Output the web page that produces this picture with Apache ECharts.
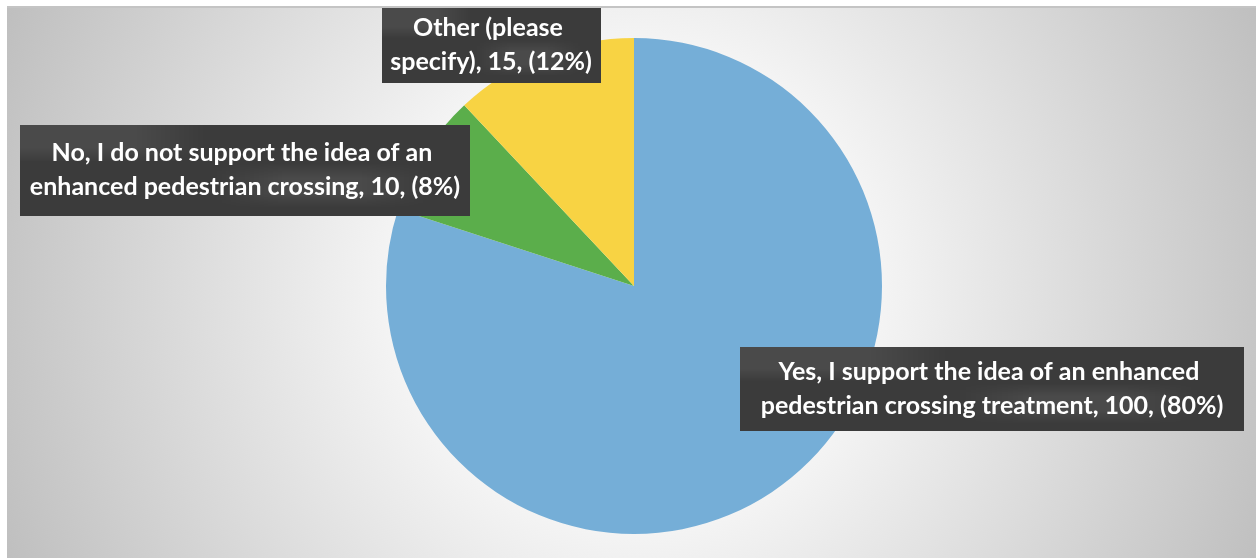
<!DOCTYPE html>
<html>
<head>
<meta charset="utf-8">
<script src="https://cdn.jsdelivr.net/npm/echarts@6/dist/echarts.min.js"></script>
<style>
html, body { margin: 0; padding: 0; background: #fff; }
#main {
    position: absolute;
    left: 7px;
    top: 6px;
    width: 1249px;
    height: 552px;
    border-top: 2px solid #c4c4c4;
    box-sizing: border-box;
}
</style>
</head>
<body>
<div id="main"></div>
<script>
var categories = [
    'Yes, I support the idea of an enhanced pedestrian crossing treatment',
    'No, I do not support the idea of an enhanced pedestrian crossing',
    'Other (please specify)'
];
var counts = [100, 10, 15];
var percents = [80, 8, 12];
var colors = ['#75aed7', '#5bae4b', '#f8d343'];

// dotted dark texture for the label boxes
var tex = document.createElement('canvas');
tex.width = 6;
tex.height = 6;
var tctx = tex.getContext('2d');
tctx.fillStyle = '#3b3b3b';
tctx.fillRect(0, 0, 6, 6);
tctx.fillStyle = '#4a4a4a';
tctx.fillRect(0, 0, 2, 2);
tctx.fillRect(3, 3, 2, 2);

// label box settings per slice (centre of box, text width, padding)
var boxes = [
    { cx: 985, cy: 381, width: 482, padding: [8, 11, 8, 11] },
    { cx: 238, cy: 162, width: 444, padding: [11, 3, 12, 3] },
    { cx: 484, cy: 37, width: 209, padding: [3, 5, 4, 5] }
];

var chartDom = document.getElementById('main');
var myChart = echarts.init(chartDom);
var option;

option = {
    backgroundColor: new echarts.graphic.RadialGradient(627, 278, 700, [
        { offset: 0, color: '#ffffff' },
        { offset: 0.35, color: '#f4f4f4' },
        { offset: 1, color: '#bdbdbd' }
    ], true),
    animation: false,
    series: [
        {
            type: 'pie',
            center: [627, 278],
            radius: 248,
            startAngle: 90,
            clockwise: true,
            labelLine: { show: false },
            labelLayout: function (params) {
                var b = boxes[params.dataIndex];
                return {
                    x: b.cx,
                    y: b.cy,
                    align: 'center',
                    verticalAlign: 'middle'
                };
            },
            data: categories.map(function (name, i) {
                return {
                    name: name,
                    value: counts[i],
                    itemStyle: { color: colors[i] },
                    label: {
                        show: true,
                        formatter: name + ', ' + counts[i] + ', (' + percents[i] + '%)',
                        width: boxes[i].width,
                        overflow: 'break',
                        padding: boxes[i].padding,
                        align: 'center',
                        lineHeight: 34,
                        color: '#ffffff',
                        fontFamily: 'Lato',
                        fontWeight: 'bold',
                        fontSize: 25,
                        textShadowBlur: 0,
                        textShadowColor: 'transparent',
                        backgroundColor: { image: tex, repeat: 'repeat' },
                        shadowColor: 'rgba(0,0,0,0.45)',
                        shadowBlur: 6,
                        shadowOffsetX: 3,
                        shadowOffsetY: 3
                    }
                };
            })
        }
    ]
};

option && myChart.setOption(option);
window.addEventListener('resize', function () {
    myChart.resize();
});
</script>
</body>
</html>
